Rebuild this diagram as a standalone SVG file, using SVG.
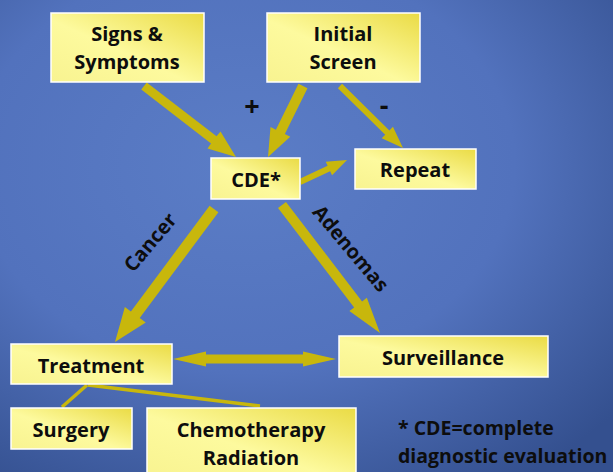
<svg xmlns="http://www.w3.org/2000/svg" width="613" height="472" viewBox="0 0 613 472">
  <defs>
    <radialGradient id="bg" cx="0.4" cy="0.35" r="0.8">
      <stop offset="0" stop-color="#5b7dc6"/>
      <stop offset="0.55" stop-color="#5272bd"/>
      <stop offset="1" stop-color="#34508f"/>
    </radialGradient>
    <linearGradient id="box" x1="0" y1="1" x2="1" y2="0">
      <stop offset="0" stop-color="#f8f390"/>
      <stop offset="0.45" stop-color="#fdfa9e"/>
      <stop offset="1" stop-color="#eadb45"/>
    </linearGradient>
  </defs>
  <style>
    .box { fill: url(#box); stroke: #ffffff; stroke-width: 1.5; }
    .t { font-family: "Open Sans", "Liberation Sans", sans-serif; font-weight: 700; font-size: 20px; fill: #0d0d0d; text-anchor: middle; }
    .sign { font-family: "Open Sans", "Liberation Sans", sans-serif; font-weight: 700; font-size: 27px; fill: #0d0d0d; text-anchor: middle; }
    .note { font-family: "Open Sans", "Liberation Sans", sans-serif; font-weight: 700; font-size: 19.5px; fill: #0d0d0d; }
    .arr { fill: #c8b70c; }
    .ln { stroke: #c8b70c; stroke-width: 3.5; fill: none; }
  </style>
  <rect x="0" y="0" width="613" height="472" fill="url(#bg)"/>

  <g id="connectors">
    <polygon class="arr" points="141.25,89.56 211.05,143.46 207.5,148.5 236,157 220.5,131.5 216.55,136.34 146.75,82.44"/>
    <polygon class="arr" points="298.51,83.79 275.89,129.68 270.51,127.03 268,157 290.25,136.75 284.87,134.10 307.49,88.21"/>
    <polygon class="arr" points="337.90,88.14 385.22,134.71 381.71,138.27 403,148 392.93,126.87 389.42,130.43 342.10,83.86"/>
    <polygon class="arr" points="301.27,184.72 330.15,171.2 332.06,175.28 347,160 325.70,161.68 327.61,165.76 298.73,179.28"/>
    <polygon class="arr" points="209.59,205.72 130.89,311.45 124.87,306.97 115,342 145.73,322.49 139.71,318.01 218.41,212.28"/>
    <polygon class="arr" points="278.03,208.04 354.14,307.46 349.38,311.11 380,333 366.84,297.73 362.08,301.38 285.97,201.96"/>
    <polygon class="arr" points="173,359 206,351.5 206,354.5 303,354.5 303,351.5 336,359 303,366.5 303,363.5 206,363.5 206,366.5"/>
    <line class="ln" x1="87" y1="385" x2="62" y2="407"/>
    <line class="ln" x1="88" y1="385" x2="260" y2="406"/>
  </g>

  <g id="signs">
    <rect class="box" x="51" y="13" width="153" height="69"/>
    <text class="t" x="127" y="41">Signs &amp;</text>
    <text class="t" x="127" y="69">Symptoms</text>
  </g>
  <g id="initial">
    <rect class="box" x="267" y="13" width="153" height="69"/>
    <text class="t" x="343" y="41">Initial</text>
    <text class="t" x="343" y="69">Screen</text>
  </g>
  <g id="cde">
    <rect class="box" x="211" y="158" width="89" height="41"/>
    <text class="t" x="256" y="187">CDE*</text>
  </g>
  <g id="repeat">
    <rect class="box" x="355" y="149" width="121" height="40"/>
    <text class="t" x="415" y="177">Repeat</text>
  </g>
  <g id="treatment">
    <rect class="box" x="11" y="344" width="161" height="40"/>
    <text class="t" x="91" y="373">Treatment</text>
  </g>
  <g id="surveillance">
    <rect class="box" x="339" y="336" width="209" height="41"/>
    <text class="t" x="443" y="365">Surveillance</text>
  </g>
  <g id="surgery">
    <rect class="box" x="11" y="408" width="121" height="41"/>
    <text class="t" x="71" y="437">Surgery</text>
  </g>
  <g id="chemo">
    <rect class="box" x="147" y="408" width="209" height="70"/>
    <text class="t" x="251" y="437">Chemotherapy</text>
    <text class="t" x="251" y="465">Radiation</text>
  </g>

  <g id="labels">
    <text class="sign" x="252" y="116">+</text>
    <text class="sign" x="384" y="115">-</text>
    <text class="t" transform="translate(151,243) rotate(-50)" x="0" y="6">Cancer</text>
    <text class="t" transform="translate(350,249) rotate(50)" x="0" y="6">Adenomas</text>
    <text class="note" x="398" y="435">* CDE=complete</text>
    <text class="note" x="398" y="463">diagnostic evaluation</text>
  </g>
</svg>
